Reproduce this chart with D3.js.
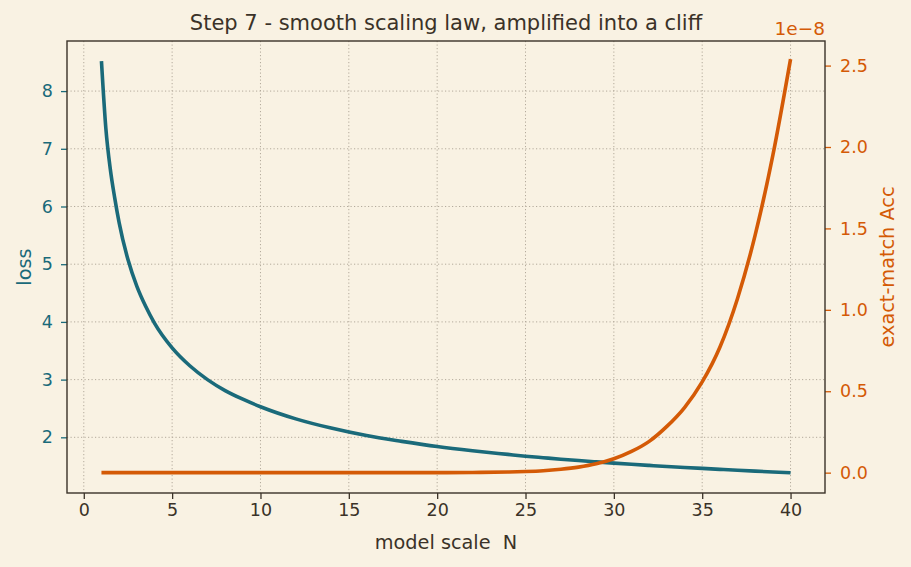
<!DOCTYPE html>
<html>
<head>
<meta charset="utf-8">
<script src="https://cdn.jsdelivr.net/npm/d3@7"></script>
<style>
  body { margin: 0; background: #f9f2e3; }
  svg { display: block; font-family: "DejaVu Sans", sans-serif; }
</style>
</head>
<body>
<div id="chart"></div>
<script>
// model scale N (x values shared by both series)
const scaleN = [1, 1.25, 1.5, 1.75, 2, 2.5, 3, 3.5, 4, 5, 6, 7, 8, 9, 10, 12, 14, 16, 18, 20, 22, 24,
  25, 26, 27, 28, 29, 30, 31, 32, 33, 34, 35, 36, 37, 38, 39, 40];
// loss (left axis)
const lossValues = [8.52, 7.35, 6.65, 6.15, 5.72, 5.08, 4.62, 4.27, 3.98, 3.55, 3.24, 3.0, 2.81, 2.66, 2.53,
  2.32, 2.16, 2.03, 1.93, 1.84, 1.767, 1.704,
  1.673, 1.647, 1.621, 1.597, 1.575, 1.553, 1.532, 1.513, 1.494, 1.477, 1.461, 1.445, 1.429, 1.414, 1.400, 1.387];
// exact-match accuracy (right axis, units of 1e-8)
const accValues = [0, 0, 0, 0, 0, 0, 0, 0, 0, 0, 0, 0, 0, 0, 0,
  0, 0, 0, 0.0001, 0.0003, 0.001, 0.004,
  0.007, 0.012, 0.021, 0.034, 0.054, 0.085, 0.13, 0.192, 0.284, 0.40, 0.557, 0.77, 1.07, 1.46, 1.95, 2.54];

const xTicks = [0, 5, 10, 15, 20, 25, 30, 35, 40];
const lossTicks = [2, 3, 4, 5, 6, 7, 8];
const accTicks = [0, 0.5, 1.0, 1.5, 2.0, 2.5];

const width = 911, height = 567;
const marginTop = 41, marginRight = 86, marginBottom = 74, marginLeft = 67;

const ink = "#3b3228";
const blue = "#1a6a7a";
const orange = "#d45a06";
const grid = "#b3aa9b";

const svg = d3.select("#chart").append("svg")
    .attr("width", width)
    .attr("height", height)
    .attr("viewBox", [0, 0, width, height]);

svg.append("rect").attr("width", width).attr("height", height).attr("fill", "#f9f2e3");

const x = d3.scaleLinear()
    .domain([-0.95, 41.95])
    .range([marginLeft, width - marginRight]);

const yLoss = d3.scaleLinear()
    .domain([1.035, 8.868])
    .range([height - marginBottom, marginTop]);

const yAcc = d3.scaleLinear()
    .domain([-0.125, 2.651])
    .range([height - marginBottom, marginTop]);

const data = scaleN.map((n, i) => ({n: n, loss: lossValues[i], acc: accValues[i]}));

// grid
const gridG = svg.append("g")
    .attr("stroke", grid)
    .attr("stroke-width", 1)
    .attr("stroke-dasharray", "1.2,2.3");
gridG.selectAll(".vx").data(xTicks).join("line")
    .attr("x1", d => x(d)).attr("x2", d => x(d))
    .attr("y1", marginTop).attr("y2", height - marginBottom);
gridG.selectAll(".hy").data(lossTicks).join("line")
    .attr("x1", marginLeft).attr("x2", width - marginRight)
    .attr("y1", d => yLoss(d)).attr("y2", d => yLoss(d));

// axes
function styleAxis(g, color) {
  g.select(".domain").remove();
  g.selectAll(".tick line").attr("stroke", color).attr("stroke-width", 1.3);
  g.selectAll(".tick text").attr("fill", color).attr("font-size", 17.5)
      .attr("font-family", "DejaVu Sans, sans-serif");
}

svg.append("g")
    .attr("transform", `translate(0,${height - marginBottom})`)
    .call(d3.axisBottom(x).tickValues(xTicks).tickSize(6).tickPadding(5))
    .call(g => styleAxis(g, ink));

svg.append("g")
    .attr("transform", `translate(${marginLeft},0)`)
    .call(d3.axisLeft(yLoss).tickValues(lossTicks).tickSize(6).tickPadding(8))
    .call(g => styleAxis(g, blue));

svg.append("g")
    .attr("transform", `translate(${width - marginRight},0)`)
    .call(d3.axisRight(yAcc).tickValues(accTicks).tickSize(6).tickPadding(9).tickFormat(d3.format(".1f")))
    .call(g => styleAxis(g, orange));

// lines
const lossLine = d3.line()
    .curve(d3.curveMonotoneX)
    .x(d => x(d.n))
    .y(d => yLoss(d.loss));

const accLine = d3.line()
    .curve(d3.curveMonotoneX)
    .x(d => x(d.n))
    .y(d => yAcc(d.acc));

svg.append("path")
    .datum(data)
    .attr("fill", "none")
    .attr("stroke", blue)
    .attr("stroke-width", 3.6)
    .attr("d", lossLine);

svg.append("path")
    .datum(data)
    .attr("fill", "none")
    .attr("stroke", orange)
    .attr("stroke-width", 3.6)
    .attr("d", accLine);

// frame
svg.append("rect")
    .attr("x", marginLeft).attr("y", marginTop)
    .attr("width", width - marginLeft - marginRight)
    .attr("height", height - marginTop - marginBottom)
    .attr("fill", "none")
    .attr("stroke", ink)
    .attr("stroke-width", 1.4);

// text
svg.append("text")
    .attr("x", (marginLeft + width - marginRight) / 2)
    .attr("y", 30)
    .attr("text-anchor", "middle")
    .attr("fill", ink)
    .attr("font-size", 21)
    .text("Step 7 - smooth scaling law, amplified into a cliff");

svg.append("text")
    .attr("x", (marginLeft + width - marginRight) / 2)
    .attr("y", 549)
    .attr("text-anchor", "middle")
    .attr("fill", ink)
    .attr("font-size", 19.3)
    .attr("xml:space", "preserve")
    .text("model scale  N");

svg.append("text")
    .attr("transform", `translate(30.5,${(marginTop + height - marginBottom) / 2}) rotate(-90)`)
    .attr("text-anchor", "middle")
    .attr("fill", blue)
    .attr("font-size", 19.3)
    .text("loss");

svg.append("text")
    .attr("transform", `translate(894,${(marginTop + height - marginBottom) / 2}) rotate(-90)`)
    .attr("text-anchor", "middle")
    .attr("fill", orange)
    .attr("font-size", 19.3)
    .text("exact-match Acc");

svg.append("text")
    .attr("x", width - marginRight)
    .attr("y", 35)
    .attr("text-anchor", "end")
    .attr("fill", orange)
    .attr("font-size", 18.5)
    .text("1e\u22128");
</script>
</body>
</html>
